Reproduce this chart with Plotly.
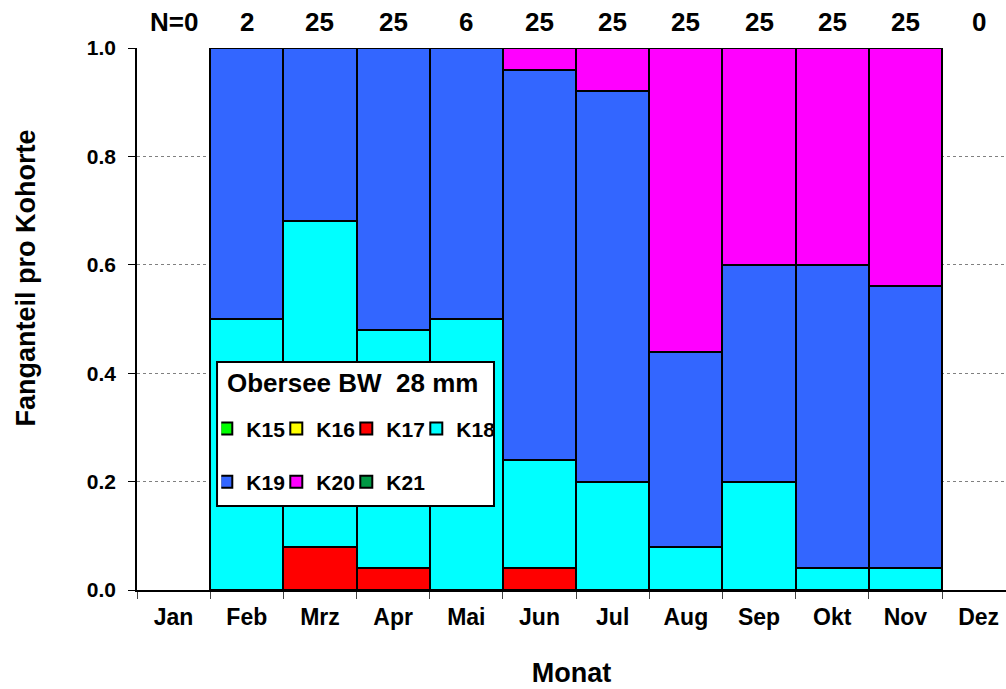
import plotly.graph_objects as go

# Monthly catch composition by cohort (Obersee BW, 28 mm mesh)
months = ["Jan", "Feb", "Mrz", "Apr", "Mai", "Jun", "Jul", "Aug", "Sep", "Okt", "Nov", "Dez"]
n_fish = [0, 2, 25, 25, 6, 25, 25, 25, 25, 25, 25, 0]

# no catch in Jan and Dez -> no bar
k15 = [None, 0, 0, 0, 0, 0, 0, 0, 0, 0, 0, None]
k16 = [None, 0, 0, 0, 0, 0, 0, 0, 0, 0, 0, None]
k17 = [None, 0, 0.08, 0.04, 0, 0.04, 0, 0, 0, 0, 0, None]
k18 = [None, 0.50, 0.60, 0.44, 0.50, 0.20, 0.20, 0.08, 0.20, 0.04, 0.04, None]
k19 = [None, 0.50, 0.32, 0.52, 0.50, 0.72, 0.72, 0.36, 0.40, 0.56, 0.52, None]
k20 = [None, 0, 0, 0, 0, 0.04, 0.08, 0.56, 0.40, 0.40, 0.44, None]
k21 = [None, 0, 0, 0, 0, 0, 0, 0, 0, 0, 0, None]

y_ticks = [0.0, 0.2, 0.4, 0.6, 0.8, 1.0]

FONT = "Arial, 'Liberation Sans', sans-serif"

series = [
    ("K15", k15, "#00FF00", "legend"),
    ("K16", k16, "#FFFF00", "legend"),
    ("K17", k17, "#FF0000", "legend"),
    ("K18", k18, "#00FFFF", "legend"),
    ("K19", k19, "#3366FF", "legend2"),
    ("K20", k20, "#FF00FF", "legend2"),
    ("K21", k21, "#009944", "legend2"),
]

fig = go.Figure()
for name, vals, color, leg in series:
    fig.add_trace(go.Bar(
        x=months, y=vals, name=name, legend=leg,
        marker=dict(color=color, line=dict(color="black", width=2)),
        width=1.0,
    ))

# top row: number of fish per month
for i, (m, n) in enumerate(zip(months, n_fish)):
    fig.add_annotation(
        x=m, y=1.0, xref="x", yref="paper", yanchor="middle",
        yshift=26, text=("N=%d" % n) if i == 0 else str(n), showarrow=False,
        font=dict(family=FONT, size=26, color="black", weight="bold"),
    )

# y axis title
fig.add_annotation(
    x=-0.128, y=0.576, xref="paper", yref="paper", textangle=-90,
    xanchor="center", yanchor="middle",
    text="Fanganteil pro Kohorte", showarrow=False,
    font=dict(family=FONT, size=27, color="black", weight="bold"),
)

# legend frame and its heading
fig.add_shape(
    type="rect", xref="paper", yref="paper",
    x0=0.0921, x1=0.4108, y0=0.155, y1=0.4207,
    fillcolor="white", line=dict(color="black", width=2), layer="above",
)
fig.add_annotation(
    x=0.101, y=0.3819, xref="paper", yref="paper",
    xanchor="left", yanchor="middle",
    text="Obersee BW&nbsp;&nbsp;28 mm", showarrow=False,
    font=dict(family=FONT, size=26, color="black", weight="bold"),
)

legend_common = dict(
    orientation="h", xanchor="left", yanchor="top",
    bgcolor="rgba(0,0,0,0)", borderwidth=0,
    font=dict(family=FONT, size=21, color="black", weight="bold"),
    entrywidth=40, itemwidth=30, indentation=-15, traceorder="normal",
)

fig.update_layout(
    width=1006, height=689,
    margin=dict(l=137, r=0, t=48, b=99),
    paper_bgcolor="white", plot_bgcolor="white",
    font=dict(family=FONT, color="black", weight="bold"),
    barmode="stack", bargap=0,
    showlegend=True,
    legend=dict(legend_common, x=0.097, y=0.335),
    legend2=dict(legend_common, x=0.097, y=0.237),
    xaxis=dict(
        type="category", range=[-0.5, 11.3746], tickson="boundaries",
        ticks="outside", ticklen=7, tickwidth=1, tickcolor="#444444",
        showline=True, linecolor="black", linewidth=2,
        showgrid=False, zeroline=False, ticklabelstandoff=5,
        tickfont=dict(family=FONT, size=23, color="black", weight="bold"),
        title=dict(text="Monat", font=dict(family=FONT, size=27, color="black", weight="bold"),
                   standoff=35),
    ),
    yaxis=dict(
        range=[0, 1], tickvals=y_ticks, ticktext=["%.1f" % v for v in y_ticks],
        ticks="outside", ticklen=7, tickwidth=1, tickcolor="black",
        showline=True, linecolor="black", linewidth=1.5,
        showgrid=True, gridcolor="#808080", gridwidth=1, griddash="dot",
        zeroline=False, ticklabelstandoff=8,
        tickfont=dict(family=FONT, size=21, color="black", weight="bold"),
    ),
)

fig.write_html("out.html")
